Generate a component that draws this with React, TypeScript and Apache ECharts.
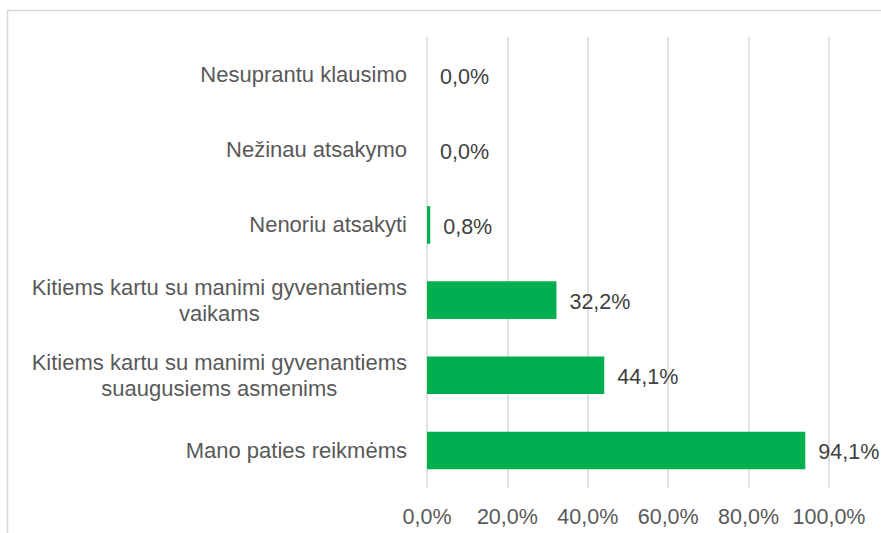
import React, { useEffect, useRef } from "react";
import * as echarts from "echarts";

const categories: string[] = [
  "Mano paties reikmėms",
  "Kitiems kartu su manimi gyvenantiems\nsuaugusiems asmenims",
  "Kitiems kartu su manimi gyvenantiems\nvaikams",
  "Nenoriu atsakyti",
  "Nežinau atsakymo",
  "Nesuprantu klausimo",
];
const values: number[] = [94.1, 44.1, 32.2, 0.8, 0.0, 0.0];
const xTicks: number[] = [0, 20, 40, 60, 80, 100];

const FONT = '"Liberation Sans", Arial, sans-serif';
const FS = 21.5;
const fmt = (v: number) => v.toFixed(1).replace(".", ",") + "%";

export default function App() {
  const ref = useRef<HTMLDivElement>(null);
  useEffect(() => {
    if (!ref.current) return;
    const chart = echarts.init(ref.current, null, { renderer: "svg" });
    chart.setOption({
      animation: false,
      backgroundColor: "#ffffff",
      textStyle: { fontFamily: FONT },
      graphic: [
        {
          type: "rect",
          shape: { x: 7.5, y: 10.5, width: 1000, height: 1000 },
          style: { fill: "none", stroke: "#d9d9d9", lineWidth: 1.5 },
          silent: true,
          z: -10,
        },
      ],
      grid: { left: 427, right: 52, top: 37, bottom: 45, containLabel: false },
      xAxis: {
        type: "value",
        min: xTicks[0],
        max: xTicks[xTicks.length - 1],
        interval: 20,
        axisLine: { show: false },
        axisTick: { show: false },
        splitLine: { show: true, lineStyle: { color: "#d9d9d9", width: 1.5 } },
        axisLabel: {
          formatter: (v: number) => fmt(v),
          color: "#595959",
          fontSize: FS,
          fontFamily: FONT,
          margin: 18,
        },
      },
      yAxis: {
        type: "category",
        data: categories,
        axisLine: { show: false },
        axisTick: { show: false },
        axisLabel: {
          margin: 20,
          align: "right",
          formatter: (v: string) =>
            v
              .split("\n")
              .map((l) => "{c|" + l + "}")
              .join("\n"),
          rich: {
            c: {
              align: "center",
              fontSize: 22,
              lineHeight: 26,
              color: "#595959",
              fontFamily: FONT,
            },
          },
        },
      },
      series: [
        {
          type: "bar",
          data: values,
          barWidth: "50%",
          itemStyle: { color: "#00B050" },
          label: {
            show: true,
            position: "right",
            distance: 13,
            offset: [0, 2],
            formatter: (p: any) => fmt(p.value),
            color: "#404040",
            fontSize: FS,
            fontFamily: FONT,
          },
        },
      ],
    });
    return () => chart.dispose();
  }, []);
  return (
    <div
      ref={ref}
      style={{ position: "fixed", left: 0, top: 0, width: 881, height: 533 }}
    />
  );
}
